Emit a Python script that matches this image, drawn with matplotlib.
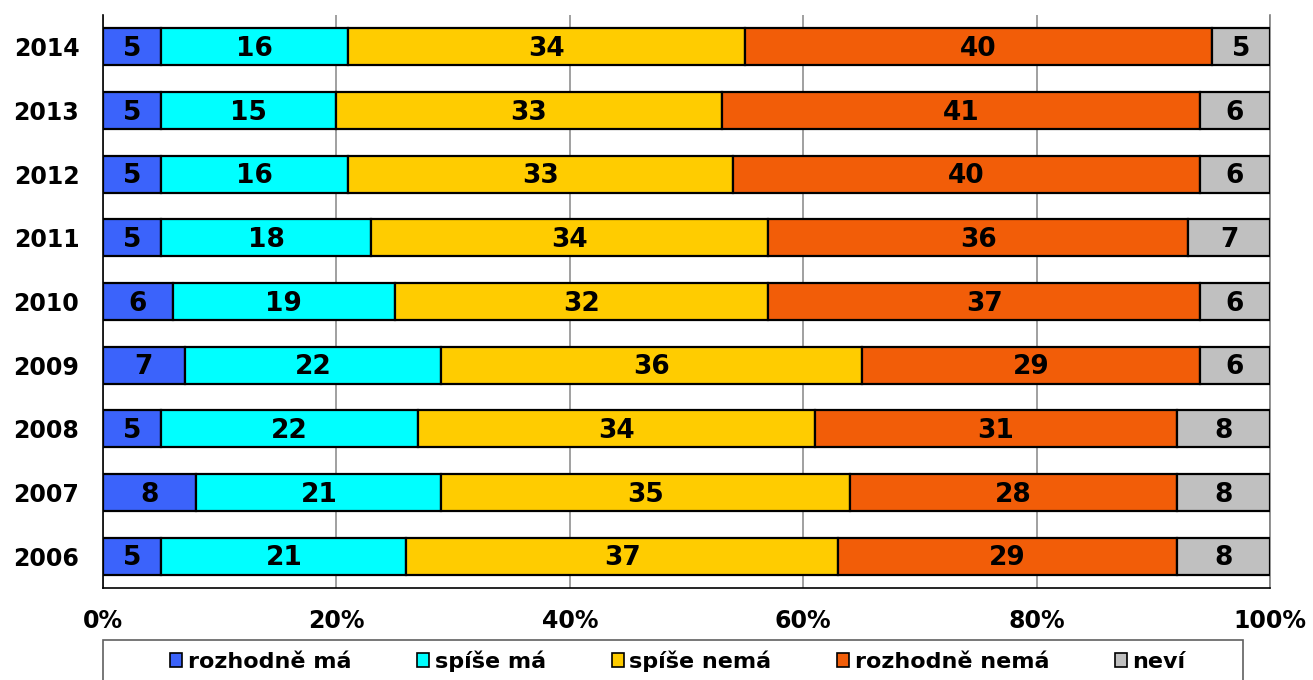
import matplotlib
matplotlib.use("Agg")
import matplotlib.pyplot as plt
from matplotlib.patches import Rectangle
import numpy as np

years = ["2014", "2013", "2012", "2011", "2010", "2009", "2008", "2007", "2006"]
categories = ["rozhodně má", "spíše má", "spíše nemá", "rozhodně nemá", "neví"]
rozhodne_ma = [5, 5, 5, 5, 6, 7, 5, 8, 5]
spise_ma = [16, 15, 16, 18, 19, 22, 22, 21, 21]
spise_nema = [34, 33, 33, 34, 32, 36, 34, 35, 37]
rozhodne_nema = [40, 41, 40, 36, 37, 29, 31, 28, 29]
nevi = [5, 6, 6, 7, 6, 6, 8, 8, 8]
colors = ["#3b63fb", "#00ffff", "#ffcc00", "#f25d08", "#c0c0c0"]
xticks = [0, 20, 40, 60, 80, 100]
xtick_labels = ["0%", "20%", "40%", "60%", "80%", "100%"]

series = [rozhodne_ma, spise_ma, spise_nema, rozhodne_nema, nevi]

fig = plt.figure(figsize=(13.13, 6.8), dpi=100)
ax = fig.add_axes([0.0784, 0.1353, 0.9673 - 0.0784, 0.978 - 0.1353])

ypos = np.arange(len(years))
left = np.zeros(len(years))
handles = []
for vals, col, name in zip(series, colors, categories):
    vals = np.array(vals, dtype=float)
    bars = ax.barh(ypos, vals, left=left, height=0.58, color=col,
                   edgecolor="black", linewidth=1.6, label=name, zorder=3)
    handles.append(bars)
    for y, l, v in zip(ypos, left, vals):
        ax.text(l + v / 2, y + 0.035, f"{int(v)}", ha="center", va="center",
                fontsize=19, fontweight="bold", color="black", zorder=4)
    left += vals

ax.set_xlim(0, 100)
ax.set_ylim(len(years) - 0.5, -0.5)
ax.set_yticks(ypos)
ax.set_yticklabels(years, fontsize=17, fontweight="bold")
ax.set_xticks(xticks)
ax.set_xticklabels(xtick_labels, fontsize=17, fontweight="bold")
ax.tick_params(axis="both", length=0)
ax.tick_params(axis="x", pad=15)
ax.tick_params(axis="y", pad=17)
ax.xaxis.grid(True, color="#a0a0a0", linewidth=1.4, zorder=0)
ax.set_axisbelow(True)
ax.spines["top"].set_visible(False)
ax.spines["right"].set_color("#808080")
ax.spines["right"].set_linewidth(1.2)
ax.spines["left"].set_color("black")
ax.spines["left"].set_linewidth(1.2)
ax.spines["bottom"].set_color("black")
ax.spines["bottom"].set_linewidth(1.2)

# legend frame
W, H = 1313, 680
fig.patches.append(Rectangle((103 / W, -0.02), (1243 - 103) / W, (680 - 640) / H + 0.02,
                             transform=fig.transFigure, facecolor="white",
                             edgecolor="#606060", linewidth=1.2))
leg = fig.legend(handles=handles, labels=categories, loc="center",
                 bbox_to_anchor=(678 / W, 1 - 661 / H), ncol=5, frameon=False,
                 prop={"size": 16, "weight": "bold"},
                 handlelength=0.55, handleheight=0.55, handletextpad=0.25,
                 columnspacing=2.95, borderpad=0)
for h in leg.legend_handles:
    h.set_linewidth(1.2)

fig.savefig("out.png", dpi=100)
